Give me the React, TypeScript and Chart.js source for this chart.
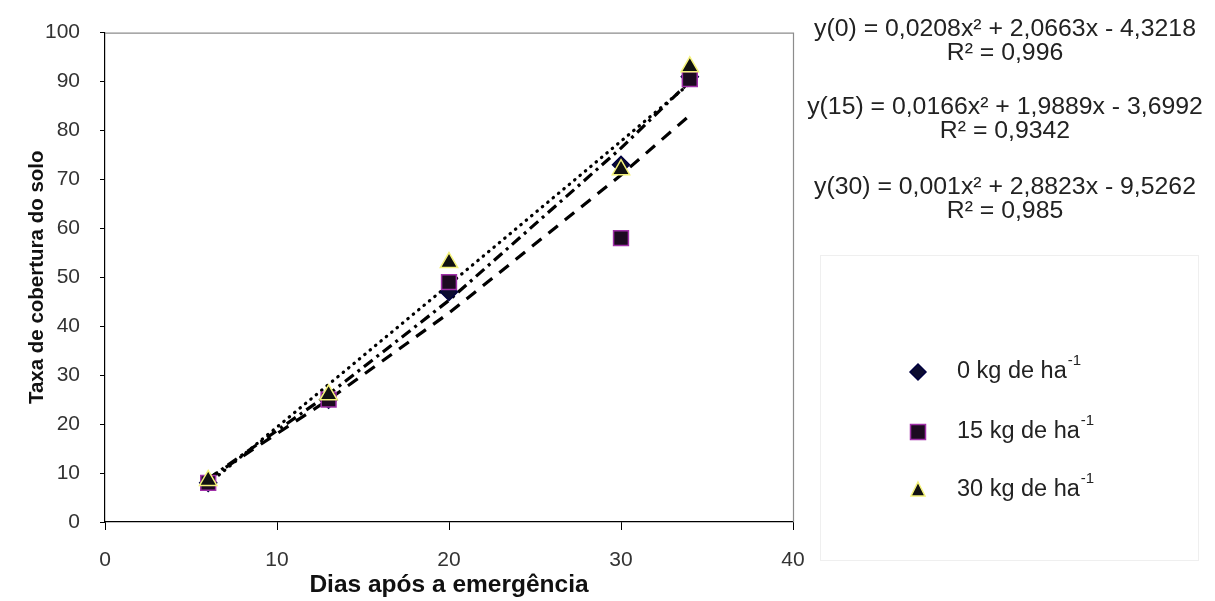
import React, { useEffect, useRef } from 'react';
import { Chart, registerables } from 'chart.js';

Chart.register(...registerables);

// ---- data ----
const days = [6, 13, 20, 30, 34];
const dose0 = [8, 25, 47, 73, 91];
const dose15 = [8, 25, 49, 58, 90.5];
const dose30 = [8.5, 26, 53, 72, 93];
// trend lines at the same days
const trend0 = [8.8, 26.1, 45.3, 76.4, 90.0];
const trend15 = [8.8, 25.0, 42.7, 70.9, 83.1];
const trend30 = [7.8, 28.1, 48.5, 77.8, 89.6];

const seriesNames = ['0 kg de ha', '15 kg de ha', '30 kg de ha'];
const seriesSup = '-1';
const equationLines = [
  'y(0) = 0,0208x² + 2,0663x - 4,3218',
  'R² = 0,996',
  'y(15) = 0,0166x² + 1,9889x - 3,6992',
  'R² = 0,9342',
  'y(30) = 0,001x² + 2,8823x - 9,5262',
  'R² = 0,985',
];
const xTitle = 'Dias após a emergência';
const yTitle = 'Taxa de cobertura do solo';

const FONT = '"Liberation Sans", Arial, sans-serif';

const pts = (ys: number[]) => days.map((d, i) => ({ x: d, y: ys[i] }));

const markerStyles = [
  { style: 'rectRot', r: 8.5, fill: '#0c0c30', stroke: '#000040' },
  { style: 'rect', r: 10.5, fill: '#1c0a20', stroke: '#a030a8' },
  { style: 'triangle', r: 10, fill: '#111111', stroke: '#f4f27a' },
];

const decorPlugin = {
  id: 'decor',
  beforeDraw(chart: any) {
    const { ctx, width, height } = chart;
    ctx.save();
    ctx.fillStyle = '#ffffff';
    ctx.fillRect(0, 0, width, height);
    ctx.restore();
  },
  afterDraw(chart: any) {
    const { ctx, chartArea: a } = chart;
    ctx.save();
    // plot frame (top & right)
    ctx.strokeStyle = '#8c8c8c';
    ctx.lineWidth = 1.2;
    ctx.beginPath();
    ctx.moveTo(a.left, a.top + 0.5);
    ctx.lineTo(a.right + 0.5, a.top + 0.5);
    ctx.lineTo(a.right + 0.5, a.bottom);
    ctx.stroke();

    // equations
    ctx.fillStyle = '#222';
    ctx.font = `24.8px ${FONT}`;
    ctx.textAlign = 'center';
    ctx.textBaseline = 'middle';
    const eqY = [29, 53, 107, 131, 187, 211];
    equationLines.forEach((t, i) => ctx.fillText(t, 1005, eqY[i]));

    // legend box
    ctx.strokeStyle = '#efefef';
    ctx.lineWidth = 1;
    ctx.strokeRect(820.5, 255.5, 378, 305);

    // legend entries
    const ly = [372, 432, 490];
    markerStyles.forEach((m, i) => {
      const x = 918;
      const y = ly[i];
      ctx.fillStyle = m.fill;
      ctx.strokeStyle = m.stroke;
      ctx.lineWidth = 1.5;
      ctx.beginPath();
      if (m.style === 'rectRot') {
        ctx.moveTo(x - 8, y);
        ctx.lineTo(x, y - 8);
        ctx.lineTo(x + 8, y);
        ctx.lineTo(x, y + 8);
        ctx.closePath();
      } else if (m.style === 'rect') {
        ctx.rect(x - 7.5, y - 7.5, 15, 15);
      } else {
        ctx.moveTo(x, y - 8);
        ctx.lineTo(x + 7, y + 6);
        ctx.lineTo(x - 7, y + 6);
        ctx.closePath();
      }
      ctx.fill();
      ctx.stroke();

      ctx.fillStyle = '#222';
      ctx.textAlign = 'left';
      ctx.textBaseline = 'middle';
      ctx.font = `23.5px ${FONT}`;
      ctx.fillText(seriesNames[i], 957, y);
      const w = ctx.measureText(seriesNames[i]).width;
      ctx.font = `15px ${FONT}`;
      ctx.fillText(seriesSup, 957 + w + 1, y - 11);
    });
    ctx.restore();
  },
};

export default function App() {
  const ref = useRef<HTMLCanvasElement | null>(null);

  useEffect(() => {
    const canvas = ref.current;
    if (!canvas) return;
    const markerDs = [dose0, dose15, dose30].map((vals, i) => ({
      label: seriesNames[i],
      data: pts(vals),
      pointStyle: markerStyles[i].style,
      pointRadius: markerStyles[i].r,
      backgroundColor: markerStyles[i].fill,
      borderColor: markerStyles[i].stroke,
      pointBorderWidth: 1.5,
      showLine: false,
      order: 3 - i,
    }));
    const lineDefs = [
      { vals: trend0, dash: [11, 5, 3, 5], cap: 'butt' },
      { vals: trend15, dash: [12, 9], cap: 'butt' },
      { vals: trend30, dash: [0.5, 6.5], cap: 'round' },
    ];
    const trendDs = lineDefs.map((l, i) => ({
      label: 'trend ' + i,
      data: pts(l.vals),
      showLine: true,
      pointRadius: 0,
      borderColor: '#000',
      borderWidth: 3.2,
      borderDash: l.dash,
      borderCapStyle: l.cap,
      fill: false,
      order: 10 + i,
    }));

    const chart = new Chart(canvas, {
      type: 'scatter',
      data: { datasets: [...markerDs, ...trendDs] as any },
      options: {
        animation: false,
        responsive: false,
        devicePixelRatio: 1,
        layout: { padding: { left: 0, top: 20, right: 422, bottom: 0 } },
        plugins: {
          legend: { display: false },
          tooltip: { enabled: false },
        },
        scales: {
          x: {
            type: 'linear',
            min: 0,
            max: 40,
            afterFit: (s: any) => {
              s.height = 79;
            },
            ticks: {
              stepSize: 10,
              padding: 18,
              color: '#333',
              font: { family: FONT, size: 21 },
            },
            grid: { drawOnChartArea: false, drawTicks: true, tickLength: 8, color: '#000' },
            border: { display: true, color: '#000', width: 1.2 },
            title: {
              display: true,
              text: xTitle,
              color: '#111',
              font: { family: FONT, size: 24.5, weight: 'bold' },
              padding: { top: 0, bottom: 1 },
            },
          },
          y: {
            type: 'linear',
            min: 0,
            max: 100,
            afterFit: (s: any) => {
              s.width = 105;
            },
            ticks: {
              stepSize: 10,
              padding: 20,
              color: '#333',
              font: { family: FONT, size: 21 },
            },
            grid: { drawOnChartArea: false, drawTicks: true, tickLength: 5, color: '#000' },
            border: { display: true, color: '#000', width: 1.2 },
            title: {
              display: true,
              text: yTitle,
              color: '#111',
              font: { family: FONT, size: 20.5, weight: 'bold' },
              padding: { top: 25, bottom: 0 },
            },
          },
        },
      } as any,
      plugins: [decorPlugin],
    });
    return () => chart.destroy();
  }, []);

  return (
    <div style={{ position: 'absolute', left: 0, top: 0, width: 1215, height: 601, background: '#fff' }}>
      <canvas ref={ref} width={1215} height={601} style={{ display: 'block' }} />
    </div>
  );
}
